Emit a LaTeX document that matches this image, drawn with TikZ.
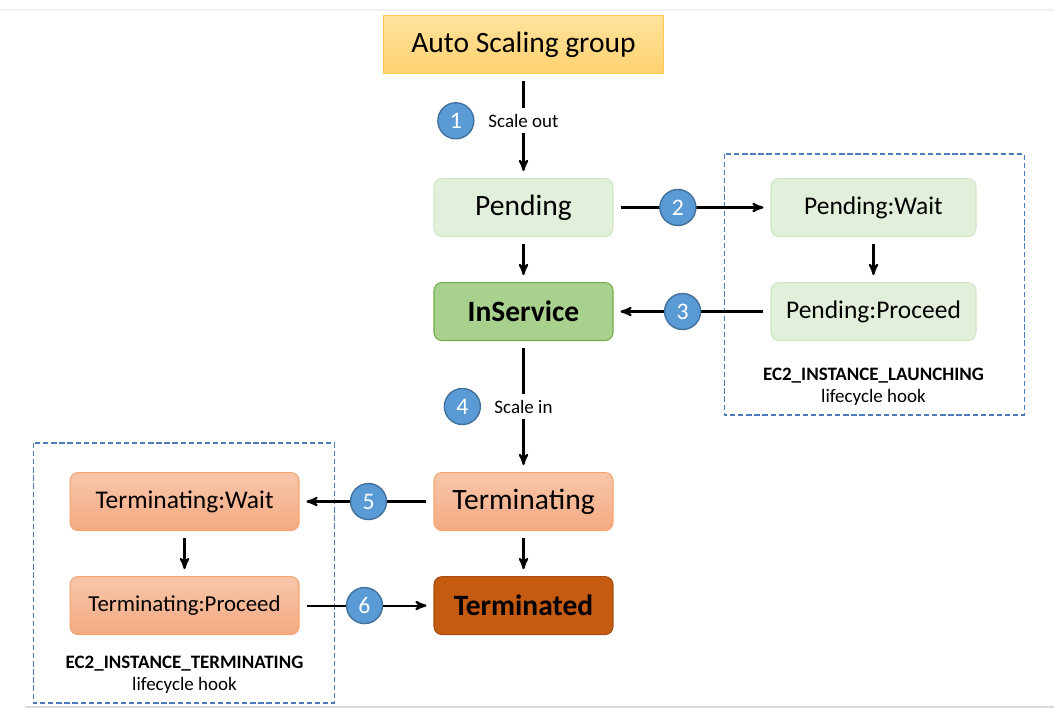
\documentclass[tikz,border=0pt]{standalone}
\usepackage{fontspec}
\setmainfont{Carlito}
\usetikzlibrary{arrows,positioning,calc}
\definecolor{asgtop}{RGB}{255,226,156}
\definecolor{asgbot}{RGB}{255,210,112}
\definecolor{asgline}{RGB}{255,200,80}
\definecolor{pendfill}{RGB}{226,239,218}
\definecolor{pendline}{RGB}{208,230,194}
\definecolor{servfill}{RGB}{169,209,142}
\definecolor{servline}{RGB}{112,173,71}
\definecolor{termtop}{RGB}{248,198,170}
\definecolor{termbot}{RGB}{244,170,130}
\definecolor{termline}{RGB}{244,164,110}
\definecolor{deadfill}{RGB}{197,90,17}
\definecolor{deadline}{RGB}{170,75,15}
\definecolor{numfill}{RGB}{91,155,213}
\definecolor{numline}{RGB}{65,113,156}
\definecolor{hookline}{RGB}{74,126,187}

\begin{document}
\begin{tikzpicture}[->,>=stealth',shorten >=0.14cm,shorten <=0.14cm,line width=1.2pt,x=0.02cm,y=-0.02cm]
  \tikzstyle{state box}=[rectangle,rounded corners=0.16cm,line width=0.6pt,minimum height=1.16cm,inner sep=2pt,text=black]
  \tikzstyle{big text}=[font=\fontsize{16.8}{19}\selectfont]
  \tikzstyle{asg}=[state box,big text,sharp corners,top color=asgtop,bottom color=asgbot,draw=asgline,minimum width=5.6cm]
  \tikzstyle{pend}=[state box,big text,fill=pendfill,draw=pendline,minimum width=3.58cm]
  \tikzstyle{serv}=[state box,big text,fill=servfill,draw=servline,minimum width=3.58cm]
  \tikzstyle{term}=[state box,big text,top color=termtop,bottom color=termbot,draw=termline,minimum width=3.58cm]
  \tikzstyle{dead}=[state box,big text,fill=deadfill,draw=deadline,minimum width=3.58cm]
  \tikzstyle{pendhook}=[state box,fill=pendfill,draw=pendline,minimum width=4.1cm,font=\fontsize{14.5}{17}\selectfont]
  \tikzstyle{termhook}=[state box,top color=termtop,bottom color=termbot,draw=termline,minimum width=4.58cm,font=\fontsize{14.5}{17}\selectfont]
  \tikzstyle{num}=[circle,fill=numfill,draw=numline,line width=0.8pt,minimum size=0.72cm,inner sep=0pt,text=white,font=\fontsize{13.5}{16}\selectfont]
  \tikzstyle{steplabel}=[fill=white,font=\fontsize{10.8}{13}\selectfont]
  \tikzstyle{hooklabel}=[align=center,inner sep=0pt,font=\fontsize{10.8}{12.6}\selectfont]
  \tikzstyle{hookframe}=[-,shorten >=0pt,shorten <=0pt,draw=hookline,line width=0.9pt,dash pattern=on 3pt off 1.6pt]
  \tikzstyle{edgeline}=[-,shorten >=0pt,shorten <=0pt,line width=0.6pt]

  \useasboundingbox (0,0) rectangle (1054,722);
  \draw[edgeline,black!6] (0,10) -- (1054,10);
  \draw[edgeline,black!14] (25,707) -- (1054,707);

  % main column
  \node[pend] (pending) at (523.5,207.5) {Pending};
  \node[asg,above=2.08cm of pending] (asg) {Auto Scaling group};
  \node[serv,below=0.9cm of pending] (inservice) {\textbf{InService}};
  \node[term,below=2.62cm of inservice] (terminating) {Terminating};
  \node[dead,below=0.9cm of terminating] (terminated) {\textbf{Terminated}};

  % launching hook
  \node[pendhook,right=3.14cm of pending] (pendwait) {Pending:Wait};
  \node[pendhook,right=3.14cm of inservice] (pendproceed) {Pending:Proceed};
  \node[hooklabel,below=0.52cm of pendproceed] (launchlabel) {\textbf{EC2\_INSTANCE\_LAUNCHING}\\lifecycle hook};
  \draw[hookframe] ($(pendwait.north west)+(-46,-24)$) rectangle ($(pendproceed.south east)+(48,74)$);

  % terminating hook
  \node[termhook,left=2.68cm of terminating] (termwait) {Terminating:Wait};
  \node[termhook,left=2.68cm of terminated,font=\fontsize{13}{15}\selectfont] (termproceed) {Terminating:Proceed};
  \node[hooklabel,below=0.4cm of termproceed] (termlabel) {\textbf{EC2\_INSTANCE\_TERMINATING}\\lifecycle hook};
  \draw[hookframe] ($(termwait.north west)+(-36,-29)$) rectangle ($(termproceed.south east)+(35,68)$);

  \path (asg) edge node[steplabel,pos=0.45] (scaleout) {Scale out} (pending)
        (pending) edge (inservice)
        (inservice) edge node[steplabel] (scalein) {Scale in} (terminating)
        (terminating) edge (terminated)
        (pendwait) edge (pendproceed)
        (termwait) edge (termproceed)
        (pending) edge node[num,pos=0.41] (n2) {2} (pendwait)
        (pendproceed) edge node[num,pos=0.56] (n3) {3} (inservice)
        (terminating) edge node[num,pos=0.485] (n5) {5} (termwait)
        (termproceed) edge node[num,pos=0.485] (n6) {6} (terminated);
  \node[num,left=0.14cm of scaleout] (n1) {1};
  \node[num,left=0.13cm of scalein] (n4) {4};
\end{tikzpicture}
\end{document}
